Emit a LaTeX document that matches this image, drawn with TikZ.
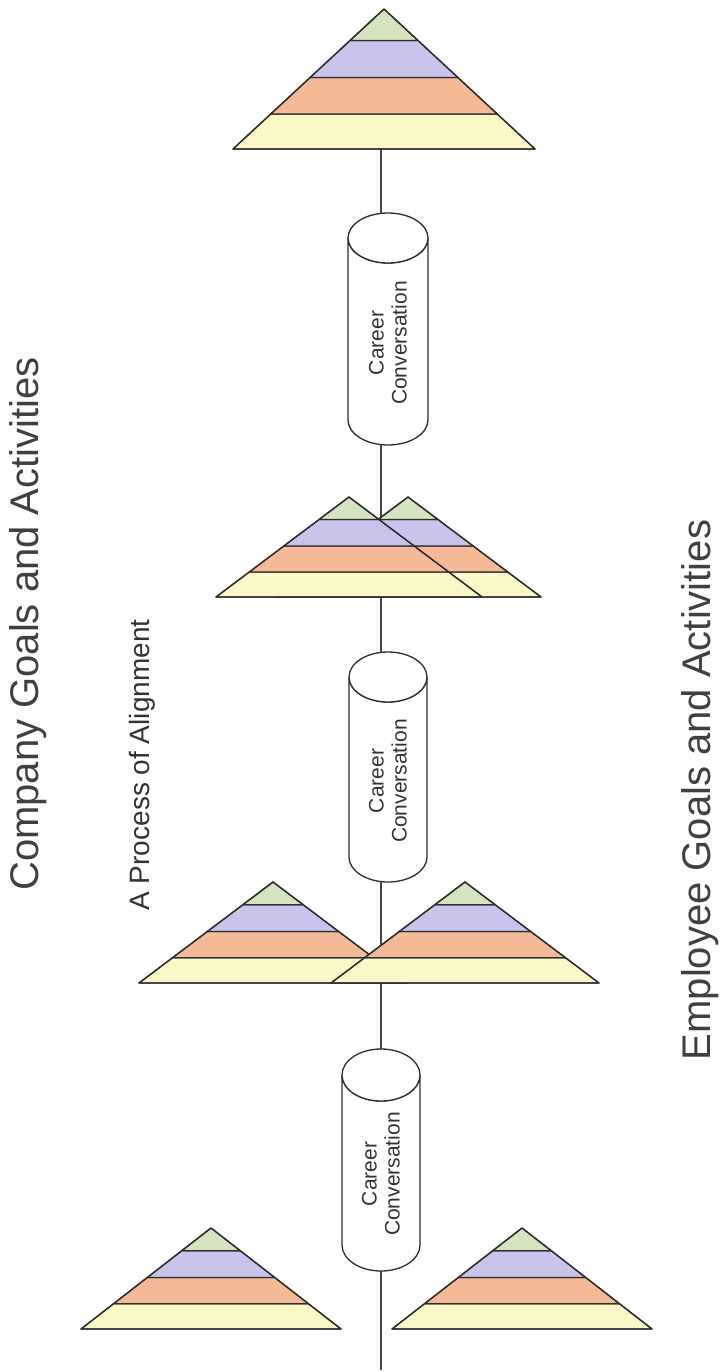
\documentclass[tikz,border=0pt]{standalone}
\usepackage{fontspec}
\setmainfont{Liberation Sans}
\usetikzlibrary{calc}
\definecolor{cG}{RGB}{212,228,190}
\definecolor{cP}{RGB}{200,196,236}
\definecolor{cO}{RGB}{244,186,152}
\definecolor{cY}{RGB}{250,248,198}
\definecolor{lc}{RGB}{45,45,45}
\definecolor{conn}{RGB}{70,70,70}
\tikzset{
  layer/.style={draw=lc, line width=1.3pt, line join=round},
  connector/.style={draw=conn, line width=1.6pt},
  cylbody/.style={draw=lc, fill=white, line width=1.3pt},
  cyltext/.style={rotate=90, align=center, font=\fontsize{21}{23}\selectfont, text=black!80},
  bigtitle/.style={rotate=90, font=\fontsize{40}{44}\selectfont, text=black!75},
  subtitle/.style={rotate=90, font=\fontsize{28}{32}\selectfont, text=black!80}
}
% #1 apex x, #2 apex y, #3 half width, #4 height
\newcommand\pyramidshape[4]{%
  \path[layer, fill=cY] (#1-0.75*#3,#2+0.75*#4) -- (#1+0.75*#3,#2+0.75*#4) -- (#1+#3,#2+#4) -- (#1-#3,#2+#4) -- cycle;
  \path[layer, fill=cO] (#1-0.49*#3,#2+0.49*#4) -- (#1+0.49*#3,#2+0.49*#4) -- (#1+0.75*#3,#2+0.75*#4) -- (#1-0.75*#3,#2+0.75*#4) -- cycle;
  \path[layer, fill=cP] (#1-0.225*#3,#2+0.225*#4) -- (#1+0.225*#3,#2+0.225*#4) -- (#1+0.49*#3,#2+0.49*#4) -- (#1-0.49*#3,#2+0.49*#4) -- cycle;
  \path[layer, fill=cG] (#1,#2) -- (#1+0.225*#3,#2+0.225*#4) -- (#1-0.225*#3,#2+0.225*#4) -- cycle;
  \path[layer] (#1,#2) -- (#1+#3,#2+#4) -- (#1-#3,#2+#4) -- cycle;
}
% #1 name, #2 center x, #3 top ellipse center y, #4 bottom ellipse center y, #5 rx, #6 ry
\newcommand\cylindershape[6]{%
  \path[cylbody] (#2-#5,#3) -- (#2-#5,#4) arc[start angle=180, end angle=0, x radius=#5, y radius=#6] -- (#2+#5,#3) arc[start angle=0, end angle=180, x radius=#5, y radius=#6] -- cycle;
  \path[cylbody] (#2,#3) ellipse[x radius=#5, y radius=#6];
  \node[cyltext] (#1) at (#2,{(#3+#4)/2+14}) {Career\\Conversation};
}
\begin{document}
\begin{tikzpicture}[x=1pt,y=-1pt]
\useasboundingbox[fill=white] (0,0) rectangle (727,1372);
% connector end points
\coordinate (topbase) at (381,149);
\coordinate (c1in) at (381,230);
\coordinate (c1out) at (381,430);
\coordinate (p2top) at (381,519);
\coordinate (p2bot) at (381,590);
\coordinate (c2in) at (381,670);
\coordinate (c2out) at (381,870);
\coordinate (p3bot) at (381,975);
\coordinate (c3in) at (381,1065);
\coordinate (c3out) at (381,1260);
\coordinate (endpt) at (381,1370);
\draw[connector] (topbase) -- (c1in);
\draw[connector] (c1out) -- (p2top);
\draw[connector] (p2bot) -- (c2in);
\draw[connector] (c2out) -- (p3bot);
\draw[connector] (p3bot) -- (c3in);
\draw[connector] (c3out) -- (endpt);
% top pyramid
\pyramidshape{384}{9}{151}{140}
% cylinders
\cylindershape{cyl1}{388}{238}{420}{40}{25}
\cylindershape{cyl2}{388}{677}{857}{39}{25}
\cylindershape{cyl3}{381}{1075}{1245}{39}{26}
% middle pair: right first, left on top
\pyramidshape{408}{497}{133}{100}
\pyramidshape{349}{497}{133}{100}
% third level: left first, right on top
\pyramidshape{273}{882}{134}{101}
\pyramidshape{465}{882}{134}{101}
% bottom level
\pyramidshape{211}{1228}{130}{101}
\pyramidshape{522}{1228}{130}{101}
% texts
\node[bigtitle] (company) at (28,624) {Company Goals and Activities};
\node[subtitle] (process) at (142,765) {A Process of Alignment};
\node[bigtitle] (employee) at (700,790) {Employee Goals and Activities};
\end{tikzpicture}
\end{document}
